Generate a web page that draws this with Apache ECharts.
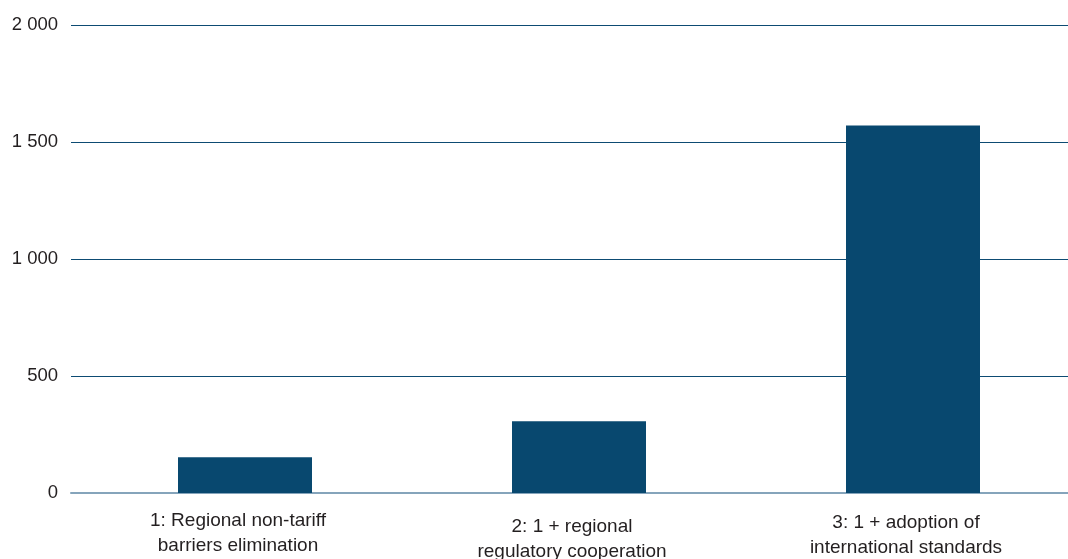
<!DOCTYPE html>
<html>
<head>
<meta charset="utf-8">
<style>
  html, body { margin: 0; padding: 0; background: #ffffff; }
  #chart { width: 1068px; height: 559px; }
</style>
<script src="https://cdn.jsdelivr.net/npm/echarts@6/dist/echarts.min.js"></script>
</head>
<body>
<div id="chart"></div>
<script>
// Scenario labels (x axis) and their values
const categories = [
  '1: Regional non-tariff\nbarriers elimination',
  '2: 1 + regional\nregulatory cooperation',
  '3: 1 + adoption of\ninternational standards'
];
const values = [153, 307, 1571];
// small per-label vertical nudges (px) for the category captions
const labelNudge = [0, 6, 2];

// Value axis range
const yMin = 0;
const yMax = 2000;
const yStep = 500;

const FONT = '"Liberation Sans", Arial, sans-serif';
const TEXT_COLOR = '#231f20';
const BAR_COLOR = '#08486f';

// thousands separated by a space: 2000 -> "2 000"
function spaced(v) {
  return String(v).replace(/\B(?=(\d{3})+(?!\d))/g, ' ');
}

const chart = echarts.init(document.getElementById('chart'), null, { renderer: 'canvas' });

chart.setOption({
  animation: false,
  backgroundColor: '#ffffff',
  grid: {
    left: 71, width: 1002, top: 25, bottom: 66,
    containLabel: false,
    outerBoundsMode: 'none'
  },
  xAxis: {
    type: 'category',
    data: categories.map((c, i) => ({
      value: c,
      textStyle: { padding: [labelNudge[i], 0, 0, 0] }
    })),
    axisTick: { show: false },
    axisLine: { show: true, lineStyle: { color: '#85a4bb', width: 2 } },
    axisLabel: {
      interval: 0,
      margin: 15,
      fontFamily: FONT,
      fontSize: 19,
      lineHeight: 25,
      color: TEXT_COLOR,
      align: 'center'
    }
  },
  yAxis: {
    type: 'value',
    min: yMin,
    max: yMax,
    interval: yStep,
    axisLine: { show: false },
    axisTick: { show: false },
    splitLine: { show: true, lineStyle: { color: '#0d4b73', width: 1 } },
    axisLabel: {
      margin: 13,
      fontFamily: FONT,
      fontSize: 18.5,
      color: TEXT_COLOR,
      formatter: spaced
    }
  },
  series: [
    {
      // empty companion column: nudges the visible bar slightly right of the band centre
      type: 'bar',
      name: 'spacer',
      data: [null, null, null],
      barWidth: 134,
      barGap: '-89.55%',
      silent: true
    },
    {
      type: 'bar',
      name: 'value',
      data: values,
      barWidth: 134,
      barGap: '-89.55%',
      itemStyle: { color: BAR_COLOR }
    }
  ]
});
</script>
</body>
</html>
